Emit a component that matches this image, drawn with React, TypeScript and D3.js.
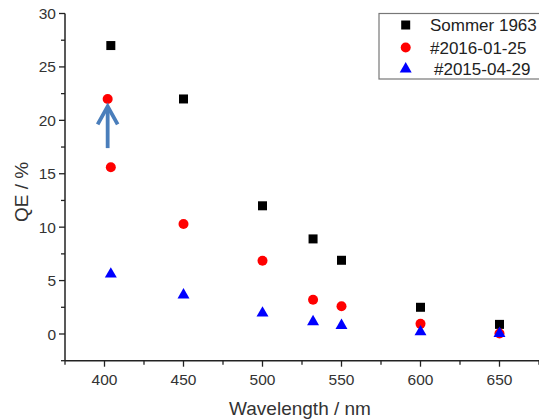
import React from "react";
import * as d3 from "d3";

const sommerX = [404, 450, 500, 532, 550, 600, 650];
const sommerY = [27, 22, 12, 8.9, 6.9, 2.5, 0.9];
const redX = [402, 404, 450, 500, 532, 550, 600, 650];
const redY = [22, 15.6, 10.3, 6.85, 3.2, 2.6, 0.95, 0.05];
const blueX = [404, 450, 500, 532, 550, 600, 650];
const blueY = [5.6, 3.65, 1.95, 1.15, 0.8, 0.2, 0.05];
const xTicks = [400, 450, 500, 550, 600, 650];
const yTicks = [0, 5, 10, 15, 20, 25, 30];
const legendLabels = ["Sommer 1963", "#2016-01-25", "#2015-04-29"];
const arrowAt = { x: 402, yFrom: 17.4, yTo: 21.3 };

const W = 539;
const H = 419;
const font = "Arial, 'Liberation Sans', sans-serif";

export default function App() {
  const x = d3.scaleLinear().domain([375, 675]).range([65, 539]);
  const y = d3.scaleLinear().domain([-2.5, 30]).range([360.7, 13.5]);
  const xMinor = d3.range(375, 700, 25);
  const yMinor = d3.range(-2.5, 30.1, 2.5);
  const triPath = d3.symbol(d3.symbolTriangle, 62)();
  const axisColor = "#222";
  const textColor = "#333";
  const x0 = x(375);
  const yb = y(-2.5);
  const ax = x(arrowAt.x);
  const ayTip = y(arrowAt.yTo);
  const ayBase = y(arrowAt.yFrom);

  return (
    <svg
      width={W}
      height={H}
      style={{ position: "absolute", left: 0, top: 0, background: "#fff" }}
      fontFamily={font}
    >
      {/* axes */}
      <line x1={x0} x2={x0} y1={y(30)} y2={yb} stroke={axisColor} strokeWidth={1.5} />
      <line x1={x0} x2={W + 5} y1={yb} y2={yb} stroke={axisColor} strokeWidth={1.5} />
      {yMinor.map((v) => {
        const major = yTicks.includes(v);
        return (
          <line key={"ym" + v} x1={x0 - (major ? 6 : 4)} x2={x0} y1={y(v)} y2={y(v)} stroke={axisColor} strokeWidth={1.3} />
        );
      })}
      {xMinor.map((v) => {
        const major = xTicks.includes(v);
        return (
          <line key={"xm" + v} x1={x(v)} x2={x(v)} y1={yb} y2={yb + (major ? 6 : 4)} stroke={axisColor} strokeWidth={1.3} />
        );
      })}
      {yTicks.map((v) => (
        <text key={"yl" + v} x={x0 - 9} y={y(v)} dy="0.36em" textAnchor="end" fontSize={15.5} fill={textColor}>
          {v}
        </text>
      ))}
      {xTicks.map((v) => (
        <text key={"xl" + v} x={x(v)} y={yb + 24} textAnchor="middle" fontSize={15.5} fill={textColor}>
          {v}
        </text>
      ))}
      <text x={300} y={415} textAnchor="middle" fontSize={19} fill={textColor}>
        Wavelength / nm
      </text>
      <text
        transform={`translate(28, ${y(13.3)}) rotate(-90)`}
        textAnchor="middle"
        fontSize={19}
        fill={textColor}
      >
        QE / %
      </text>

      {/* data */}
      {sommerX.map((v, i) => (
        <rect key={"s" + i} x={x(v) - 4.5} y={y(sommerY[i]) - 4.5} width={9} height={9} fill="#000" />
      ))}
      {redX.map((v, i) => (
        <circle key={"r" + i} cx={x(v)} cy={y(redY[i])} r={5} fill="#ff0000" />
      ))}
      {blueX.map((v, i) => (
        <path key={"b" + i} d={triPath || ""} transform={`translate(${x(v)}, ${y(blueY[i])})`} fill="#0000ff" />
      ))}

      {/* arrow */}
      <g stroke="#4a7ebb" strokeWidth={3.8} fill="none" strokeLinecap="butt" strokeLinejoin="miter">
        <line x1={ax} x2={ax} y1={ayBase} y2={ayTip + 2} />
        <polyline points={`${ax - 10},${ayTip + 18} ${ax},${ayTip} ${ax + 10},${ayTip + 18}`} />
      </g>

      {/* legend */}
      <rect x={379} y={13.5} width={170} height={65.5} fill="#fff" stroke="#777" strokeWidth={1.2} />
      <rect x={405.7 - 4.5} y={25 - 4.5} width={9} height={9} fill="#000" />
      <circle cx={405.7} cy={47.5} r={5} fill="#ff0000" />
      <path d={triPath || ""} transform={`translate(405.7, 69)`} fill="#0000ff" />
      <text x={430} y={25} dy="0.36em" fontSize={17} fill="#222">{legendLabels[0]}</text>
      <text x={430} y={47.5} dy="0.36em" fontSize={17} fill="#222">{legendLabels[1]}</text>
      <text x={434} y={69} dy="0.36em" fontSize={17} fill="#222">{legendLabels[2]}</text>
    </svg>
  );
}
